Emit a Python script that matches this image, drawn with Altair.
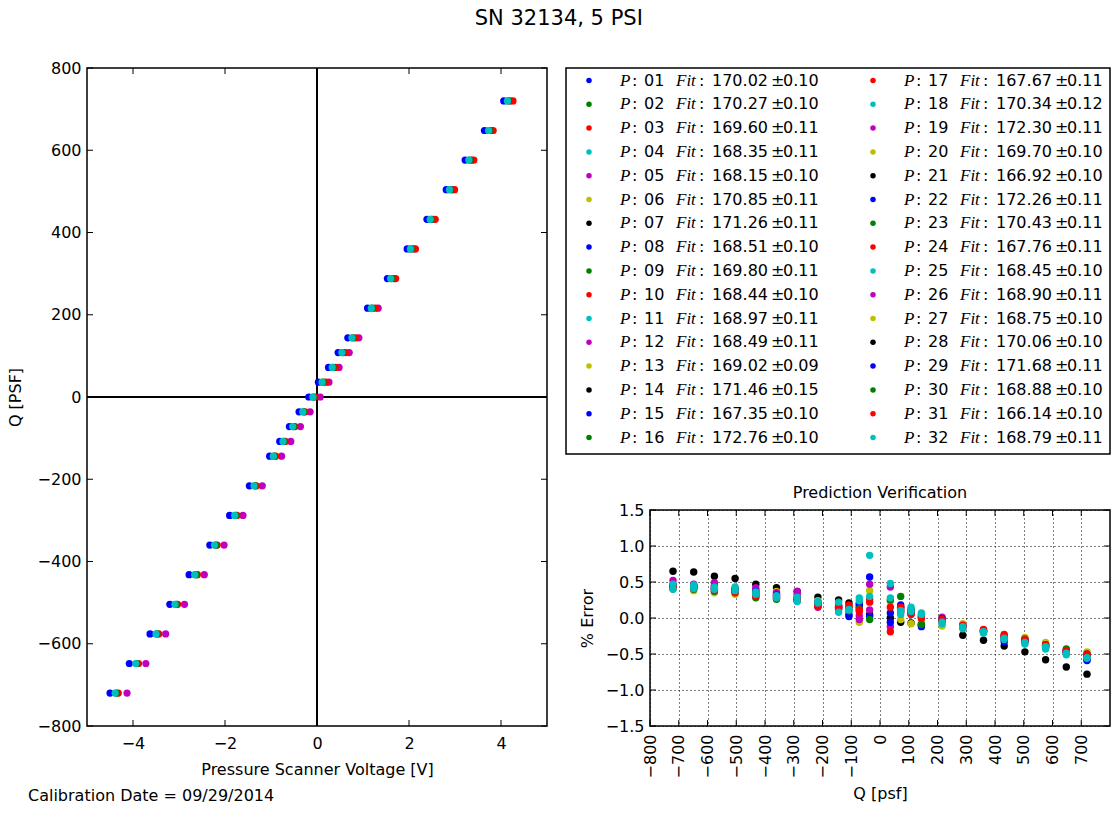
import altair as alt
import pandas as pd

TITLE = "SN 32134, 5 PSI"
CAL_DATE = "Calibration Date = 09/29/2014"
FONT = "DejaVu Sans"
MATH_FONT = "Liberation Serif"

COLOR_KEYS = ["b", "g", "r", "c", "m", "y", "k"]
COLOR_HEX = ["#0000ff", "#008000", "#ff0000", "#00bfbf", "#bf00bf", "#bfbf00", "#000000"]

# ---- legend data (ports and fitted slopes) ----
PORTS = ["01", "02", "03", "04", "05", "06", "07", "08", "09", "10", "11", "12", "13", "14", "15", "16",
         "17", "18", "19", "20", "21", "22", "23", "24", "25", "26", "27", "28", "29", "30", "31", "32"]
FIT = ["170.02", "170.27", "169.60", "168.35", "168.15", "170.85", "171.26", "168.51",
       "169.80", "168.44", "168.97", "168.49", "169.02", "171.46", "167.35", "172.76",
       "167.67", "170.34", "172.30", "169.70", "166.92", "172.26", "170.43", "167.76",
       "168.45", "168.90", "168.75", "170.06", "171.68", "168.88", "166.14", "168.79"]
FIT_ERR = ["0.10", "0.10", "0.11", "0.11", "0.10", "0.11", "0.11", "0.10",
           "0.11", "0.10", "0.11", "0.11", "0.09", "0.15", "0.10", "0.10",
           "0.11", "0.12", "0.11", "0.10", "0.10", "0.11", "0.11", "0.11",
           "0.10", "0.11", "0.10", "0.10", "0.11", "0.10", "0.10", "0.11"]

# ---- left panel: voltage vs Q, per visible colour group ----
Q_LEVELS = [-720, -648, -576, -504, -432, -360, -288, -216, -144, -108, -72, -36, 0,
            36, 72, 108, 144, 216, 288, 360, 432, 504, 576, 648, 720]
V_BLUE = [-4.50, -4.08, -3.63, -3.20, -2.78, -2.33, -1.90, -1.47, -1.03, -0.81, -0.60, -0.39, -0.18,
          0.03, 0.25, 0.46, 0.67, 1.10, 1.53, 1.96, 2.39, 2.81, 3.22, 3.64, 4.06]
V_MAGENTA = [-4.13, -3.72, -3.29, -2.88, -2.45, -2.02, -1.61, -1.19, -0.77, -0.57, -0.36, -0.15, 0.07,
             0.26, 0.48, 0.70, 0.91, 1.33, 1.68, 2.10, 2.52, 2.94, 3.36, 3.78, 4.20]
V_RED = [-4.32, -3.88, -3.44, -3.03, -2.60, -2.17, -1.74, -1.32, -0.90, -0.69, -0.48, -0.26, -0.04,
         0.19, 0.41, 0.62, 0.84, 1.27, 1.71, 2.14, 2.57, 2.99, 3.41, 3.83, 4.26]
V_GREEN = [-4.36, -3.92, -3.48, -3.06, -2.63, -2.20, -1.77, -1.35, -0.93, -0.72, -0.51, -0.29, -0.08,
           0.13, 0.35, 0.56, 0.78, 1.20, 1.62, 2.05, 2.48, 2.90, 3.32, 3.75, 4.16]
V_CYAN = [-4.39, -3.94, -3.50, -3.09, -2.66, -2.23, -1.79, -1.37, -0.95, -0.74, -0.53, -0.31, -0.09,
          0.11, 0.33, 0.54, 0.76, 1.18, 1.60, 2.03, 2.46, 2.88, 3.30, 3.73, 4.14]
LEFT_SERIES = [("b", V_BLUE), ("m", V_MAGENTA), ("r", V_RED), ("g", V_GREEN), ("c", V_CYAN)]

V_TICKS = [-4, -2, 0, 2, 4]
Q_TICKS = [-800, -600, -400, -200, 0, 200, 400, 600, 800]
ZERO = [0]

# ---- right panel: % error vs Q ----
E_LEVELS = [-720, -648, -576, -504, -432, -360, -288, -216, -144, -108, -72, -36,
            36, 72, 108, 144, 216, 288, 360, 432, 504, 576, 648, 720]
ERR_K = [0.65, 0.64, 0.58, 0.55, 0.47, 0.42, 0.37, 0.29, 0.25, 0.21, 0.20, 0.05,
         0.00, -0.06, -0.07, -0.09, -0.04, -0.24, -0.31, -0.39, -0.47, -0.58, -0.68, -0.78]
ERR_Y = [0.40, 0.38, 0.35, 0.33, 0.32, 0.37, 0.30, 0.24, 0.17, 0.13, -0.06, 0.38,
         0.23, -0.02, -0.08, -0.04, -0.11, -0.08, -0.17, -0.25, -0.27, -0.34, -0.44, -0.47]
ERR_M2 = [0.45, 0.44, 0.45, 0.39, 0.39, 0.33, 0.33, 0.15, 0.16, 0.12, 0.03, 0.11,
          -0.12, 0.08, 0.08, 0.00, -0.01, -0.12, -0.19, -0.26, -0.32, -0.40, -0.47, -0.53]
ERR_M = [0.52, 0.47, 0.49, 0.41, 0.42, 0.35, 0.37, 0.17, 0.18, 0.14, -0.02, 0.47,
         0.43, 0.10, 0.10, 0.02, 0.01, -0.13, -0.20, -0.27, -0.33, -0.41, -0.48, -0.55]
ERR_B2 = [0.44, 0.43, 0.41, 0.38, 0.34, 0.30, 0.26, 0.20, 0.13, 0.05, 0.15, 0.02,
          0.07, 0.15, 0.06, -0.10, -0.03, -0.11, -0.17, -0.30, -0.32, -0.39, -0.47, -0.58]
ERR_B = [0.46, 0.45, 0.43, 0.40, 0.37, 0.32, 0.28, 0.22, 0.15, 0.02, 0.18, 0.57,
         -0.06, 0.18, 0.08, -0.12, -0.01, -0.12, -0.18, -0.33, -0.31, -0.37, -0.46, -0.59]
ERR_G = [0.41, 0.40, 0.37, 0.36, 0.28, 0.26, 0.24, 0.20, 0.12, 0.10, 0.13, -0.02,
         0.25, 0.30, 0.12, -0.09, -0.03, -0.13, -0.19, -0.25, -0.29, -0.37, -0.43, -0.50]
ERR_R2 = [0.42, 0.41, 0.38, 0.35, 0.30, 0.27, 0.24, 0.16, 0.14, 0.16, 0.11, 0.26,
          0.15, 0.15, 0.07, 0.00, -0.04, -0.11, -0.18, -0.25, -0.30, -0.37, -0.45, -0.50]
ERR_R = [0.44, 0.42, 0.40, 0.37, 0.32, 0.29, 0.25, 0.18, 0.15, 0.18, 0.09, 0.22,
         -0.19, 0.12, 0.05, 0.03, -0.02, -0.10, -0.16, -0.23, -0.31, -0.38, -0.46, -0.52]
ERR_C2 = [0.40, 0.41, 0.40, 0.38, 0.33, 0.28, 0.23, 0.21, 0.08, 0.11, 0.24, 0.30,
          0.28, 0.10, 0.09, 0.05, -0.06, -0.12, -0.19, -0.28, -0.34, -0.40, -0.49, -0.55]
ERR_C = [0.47, 0.46, 0.43, 0.43, 0.36, 0.31, 0.29, 0.23, 0.22, 0.12, 0.28, 0.87,
         0.48, 0.05, 0.15, 0.07, -0.08, -0.15, -0.21, -0.30, -0.36, -0.43, -0.51, -0.56]
ERR_SERIES = [("k", ERR_K), ("y", ERR_Y), ("m", ERR_M2), ("m", ERR_M), ("b", ERR_B2), ("b", ERR_B),
              ("g", ERR_G), ("r", ERR_R2), ("r", ERR_R), ("c", ERR_C2), ("c", ERR_C)]

E_XTICKS = [-800, -700, -600, -500, -400, -300, -200, -100, 0, 100, 200, 300, 400, 500, 600, 700]
E_YTICKS = [-1.5, -1.0, -0.5, 0.0, 0.5, 1.0, 1.5]

# ---- sizes ----
W1, H1 = 460, 658
WL, HL = 544, 386
WE, HE = 460, 216
TICK = 6

# ---- tables ----
left_rows = []
for k, (c, vals) in enumerate(LEFT_SERIES):
    for q, v in zip(Q_LEVELS, vals):
        left_rows.append({"V": v, "Q": q, "c": c, "o": k})
left_df = pd.DataFrame(left_rows)

err_rows = []
for k, (c, vals) in enumerate(ERR_SERIES):
    for q, e in zip(E_LEVELS, vals):
        err_rows.append({"Q": q, "E": e, "c": c, "o": k})
err_df = pd.DataFrame(err_rows)

leg_rows = []
for i, p in enumerate(PORTS):
    leg_rows.append({"col": i // 16, "row": i % 16, "c": COLOR_KEYS[i % 7],
                     "port": p, "val": FIT[i], "err": FIT_ERR[i]})
leg_df = pd.DataFrame(leg_rows)

cscale = alt.Scale(domain=COLOR_KEYS, range=COLOR_HEX)

# ---- left panel ----
xs = alt.Scale(domain=[-5, 5], nice=False, zero=False)
ys = alt.Scale(domain=[-800, 800], nice=False, zero=False)
x_axis = alt.Axis(values=V_TICKS, title="Pressure Scanner Voltage [V]", labelPadding=9, titlePadding=10)
y_axis = alt.Axis(values=Q_TICKS, title="Q [PSF]", labelPadding=6, titlePadding=14)
X1 = alt.X("V:Q", scale=xs, axis=x_axis)
Y1 = alt.Y("Q:Q", scale=ys, axis=y_axis)

pts = alt.Chart(left_df).mark_circle(size=52, opacity=1).encode(
    x=X1, y=Y1, color=alt.Color("c:N", scale=cscale, legend=None), order=alt.Order("o:Q"))
zx = alt.Chart(pd.DataFrame({"V": ZERO})).mark_rule(color="black", strokeWidth=2).encode(x=X1)
zy = alt.Chart(pd.DataFrame({"Q": ZERO})).mark_rule(color="black", strokeWidth=2).encode(y=Y1)
vt = pd.DataFrame({"V": V_TICKS})
qt = pd.DataFrame({"Q": Q_TICKS})
tb = alt.Chart(vt).mark_rule(color="black").encode(x=X1, y=alt.value(H1), y2=alt.value(H1 - TICK))
tt = alt.Chart(vt).mark_rule(color="black").encode(x=X1, y=alt.value(0), y2=alt.value(TICK))
tl = alt.Chart(qt).mark_rule(color="black").encode(y=Y1, x=alt.value(0), x2=alt.value(TICK))
tr = alt.Chart(qt).mark_rule(color="black").encode(y=Y1, x=alt.value(W1), x2=alt.value(W1 - TICK))
cal = alt.Chart(pd.DataFrame({"t": [CAL_DATE]})).mark_text(
    align="left", baseline="middle", fontSize=16, font=FONT, color="black").encode(
    x=alt.value(-59), y=alt.value(728), text="t:N")
left = alt.layer(zx, zy, pts, tb, tt, tl, tr, cal).properties(width=W1, height=H1)

# ---- legend box ----
LX = alt.X("col:Q", scale=alt.Scale(domain=[0, 1], range=[23, 307]), axis=None)
LY = alt.Y("row:Q", scale=alt.Scale(domain=[0, 15], range=[12.5, 369.5]), axis=None)
lbase = alt.Chart(leg_df).encode(x=LX, y=LY)
txt = dict(align="left", baseline="middle", fontSize=16, font=FONT, color="black")
mth = dict(align="left", baseline="middle", fontSize=17, font=MATH_FONT, fontStyle="italic", color="black")
ldots = lbase.mark_circle(size=30, opacity=1).encode(color=alt.Color("c:N", scale=cscale, legend=None))
lp = lbase.mark_text(dx=31, text="P", **mth)
lc1 = lbase.mark_text(dx=43, text=":", **txt)
lport = lbase.mark_text(dx=55, **txt).encode(text="port:N")
lfit = lbase.mark_text(dx=87, text="Fit", **mth)
lc2 = lbase.mark_text(dx=110, text=":", **txt)
lval = lbase.mark_text(dx=123, **txt).encode(text="val:N")
lpm = lbase.mark_text(dx=182, text="±", **txt)
lerr = lbase.mark_text(dx=194, **txt).encode(text="err:N")
legend = alt.layer(ldots, lp, lc1, lport, lfit, lc2, lval, lpm, lerr).properties(width=WL, height=HL)

# ---- error panel ----
exs = alt.Scale(domain=[-800, 800], nice=False, zero=False)
eys = alt.Scale(domain=[-1.5, 1.5], nice=False, zero=False)
grid = dict(grid=True, gridColor="black", gridDash=[1, 3], gridWidth=1, gridOpacity=1)
ex_axis = alt.Axis(values=E_XTICKS, labelAngle=-90, title="Q [psf]", labelPadding=8, titlePadding=8, **grid)
ey_axis = alt.Axis(values=E_YTICKS, format=".1f", title="% Error", labelPadding=6, titlePadding=10, **grid)
EX = alt.X("Q:Q", scale=exs, axis=ex_axis)
EY = alt.Y("E:Q", scale=eys, axis=ey_axis)
epts = alt.Chart(err_df).mark_circle(size=55, opacity=1).encode(
    x=EX, y=EY, color=alt.Color("c:N", scale=cscale, legend=None), order=alt.Order("o:Q"))
ext = pd.DataFrame({"Q": E_XTICKS})
eyt = pd.DataFrame({"E": E_YTICKS})
etb = alt.Chart(ext).mark_rule(color="black").encode(x=EX, y=alt.value(HE), y2=alt.value(HE - TICK))
ett = alt.Chart(ext).mark_rule(color="black").encode(x=EX, y=alt.value(0), y2=alt.value(TICK))
etl = alt.Chart(eyt).mark_rule(color="black").encode(y=EY, x=alt.value(0), x2=alt.value(TICK))
etr = alt.Chart(eyt).mark_rule(color="black").encode(y=EY, x=alt.value(WE), x2=alt.value(WE - TICK))
error = alt.layer(epts, etb, ett, etl, etr).properties(
    width=WE, height=HE,
    title=alt.Title("Prediction Verification", fontSize=16, fontWeight="normal", font=FONT, offset=1))

spacer = alt.Chart(pd.DataFrame({"s": [0]})).mark_point(opacity=0).encode(
    x=alt.value(0), y=alt.value(0)).properties(width=84, height=HE, view=alt.ViewBackground(strokeOpacity=0))

right = alt.vconcat(legend, alt.hconcat(spacer, error, spacing=0, bounds="flush"),
                    spacing=56, bounds="flush")

chart = alt.hconcat(left, right, spacing=19, bounds="flush").properties(
    title=alt.Title(TITLE, fontSize=21, fontWeight="normal", font=FONT, anchor="middle", offset=30),
    padding={"left": 6, "top": 8, "right": 0, "bottom": 0},
).configure_view(stroke="black", strokeWidth=1.5).configure_axis(
    labelFont=FONT, titleFont=FONT, labelFontSize=16, titleFontSize=16, titleFontWeight="normal",
    labelColor="black", titleColor="black", ticks=False, domain=False, grid=False
).configure_title(color="black")

chart.save("out.html", embed_options={"renderer": "svg", "actions": False})
